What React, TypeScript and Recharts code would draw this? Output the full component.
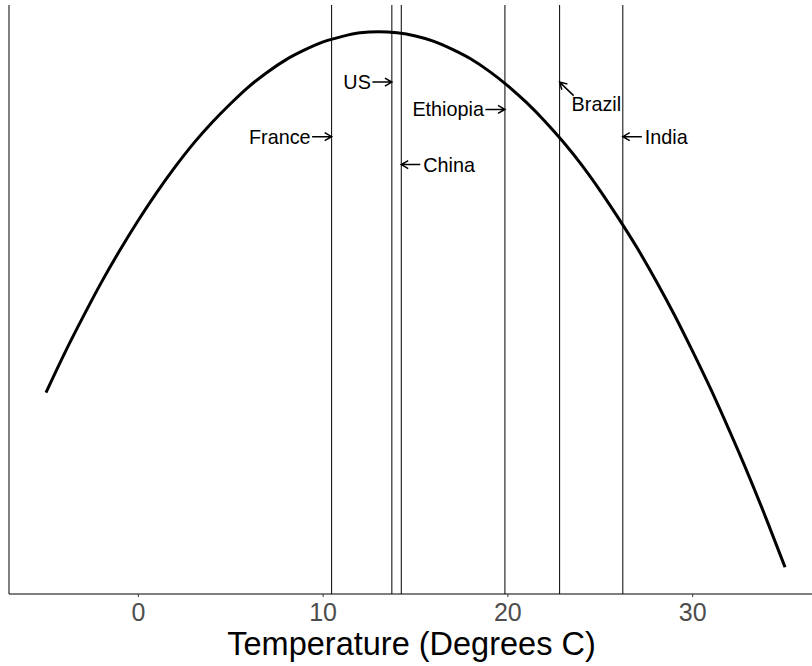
import {
  LineChart,
  Line,
  XAxis,
  YAxis,
  ReferenceLine,
  ReferenceDot,
  Label,
} from "recharts";

const FONT = "'Liberation Sans', Arial, Helvetica, sans-serif";

// temperature grid of the fitted curve (degrees C)
const tempsC = [
  -5, -4, -3, -2, -1, 0, 1, 2, 3, 4, 5, 6, 7, 8, 9, 10, 11, 12, 13, 14, 15, 16,
  17, 18, 19, 20, 21, 22, 23, 24, 25, 26, 27, 28, 29, 30, 31, 32, 33, 34, 35,
];

// relative output (peak = 100)
const outputLevel = [
  32.6, 39.9, 46.7, 53.2, 59.2, 64.8, 70.0, 74.8, 79.2, 83.1, 86.6, 89.8, 92.5,
  94.8, 96.6, 98.1, 99.1, 99.8, 100, 99.8, 99.2, 98.2, 96.7, 94.9, 92.6, 89.9,
  86.8, 83.3, 79.4, 75.1, 70.3, 65.1, 59.6, 53.6, 47.2, 40.3, 33.1, 25.4, 17.4,
  8.9, 0,
];

const countries = ["France", "US", "China", "Ethiopia", "Brazil", "India"];
const countryTemps = [10.46, 13.72, 14.23, 19.84, 22.8, 26.22];
const labelLevels = [80.4, 90.6, 75.2, 85.5, 90.6, 80.4];
const labelSides = ["left", "left", "right", "left", "below", "right"];

const xDomain = [-7, 37];
const xTicks = [0, 10, 20, 30];

const chartData = tempsC.map((t, i) => ({ temp: t, output: outputLevel[i] }));

const arrowPath = (x1: number, y1: number, x2: number, y2: number) => {
  const ang = Math.atan2(y2 - y1, x2 - x1);
  const len = 8;
  const spread = Math.PI / 6;
  const ax = x2 - len * Math.cos(ang - spread);
  const ay = y2 - len * Math.sin(ang - spread);
  const bx = x2 - len * Math.cos(ang + spread);
  const by = y2 - len * Math.sin(ang + spread);
  return `M${x1},${y1}L${x2},${y2}M${ax},${ay}L${x2},${y2}L${bx},${by}`;
};

const makeTag = (name: string, side: string) => (props: any) => {
  const { cx, cy } = props;
  if (cx == null || cy == null) return <g />;
  const textStyle = {
    fontSize: 19.8,
    fontFamily: FONT,
    fill: "#000",
  };
  let d = "";
  let tx = cx;
  let ty = cy + 7;
  let anchor: "start" | "end" = "start";
  if (side === "left") {
    d = arrowPath(cx - 19.5, cy, cx, cy);
    tx = cx - 21;
    anchor = "end";
  } else if (side === "right") {
    d = arrowPath(cx + 19, cy, cx, cy);
    tx = cx + 22;
  } else {
    d = arrowPath(cx + 14, cy + 13.5, cx, cy);
    tx = cx + 12;
    ty = cy + 29;
  }
  return (
    <g>
      <path d={d} stroke="#000" strokeWidth={1.5} fill="none" />
      <text x={tx} y={ty} textAnchor={anchor} style={textStyle}>
        {name}
      </text>
    </g>
  );
};

const AxisTitle = (props: any) => {
  const vb = props.viewBox || { x: 9, y: 594, width: 813, height: 72 };
  return (
    <text
      x={vb.x + vb.width / 2 - 4}
      y={vb.y + 61}
      textAnchor="middle"
      style={{ fontSize: 32.5, fontFamily: FONT, fill: "#000" }}
    >
      Temperature (Degrees C)
    </text>
  );
};

function App() {
  return (
    <div
      style={{
        position: "absolute",
        left: 0,
        top: 0,
        width: 812,
        height: 666,
        overflow: "hidden",
        background: "#fff",
      }}
    >
      <LineChart
        width={830}
        height={666}
        data={chartData}
        margin={{ top: 5, right: 8, left: 9, bottom: 0 }}
      >
        <XAxis
          dataKey="temp"
          type="number"
          domain={xDomain}
          ticks={xTicks}
          allowDataOverflow
          height={72}
          tickSize={3}
          tickMargin={6}
          axisLine={{ stroke: "#000", strokeWidth: 1 }}
          tickLine={{ stroke: "#333", strokeWidth: 1 }}
          tick={{ fontSize: 25, fill: "#4d4d4d", fontFamily: FONT }}
        >
          <Label content={AxisTitle} />
        </XAxis>
        <YAxis type="number" domain={[-5, 105]} width={0} hide />
        {/* left axis line */}
        <ReferenceLine x={xDomain[0]} stroke="#000" strokeWidth={1} />
        {countryTemps.map((t, i) => (
          <ReferenceLine
            key={countries[i]}
            x={t}
            stroke="#000"
            strokeWidth={1}
          />
        ))}
        <Line
          type="monotone"
          dataKey="output"
          stroke="#000"
          strokeWidth={3}
          dot={false}
          activeDot={false}
          isAnimationActive={false}
        />
        {countries.map((c, i) => (
          <ReferenceDot
            key={"tag-" + c}
            x={countryTemps[i]}
            y={labelLevels[i]}
            r={0}
            shape={makeTag(c, labelSides[i])}
          />
        ))}
      </LineChart>
    </div>
  );
}

export default App;
